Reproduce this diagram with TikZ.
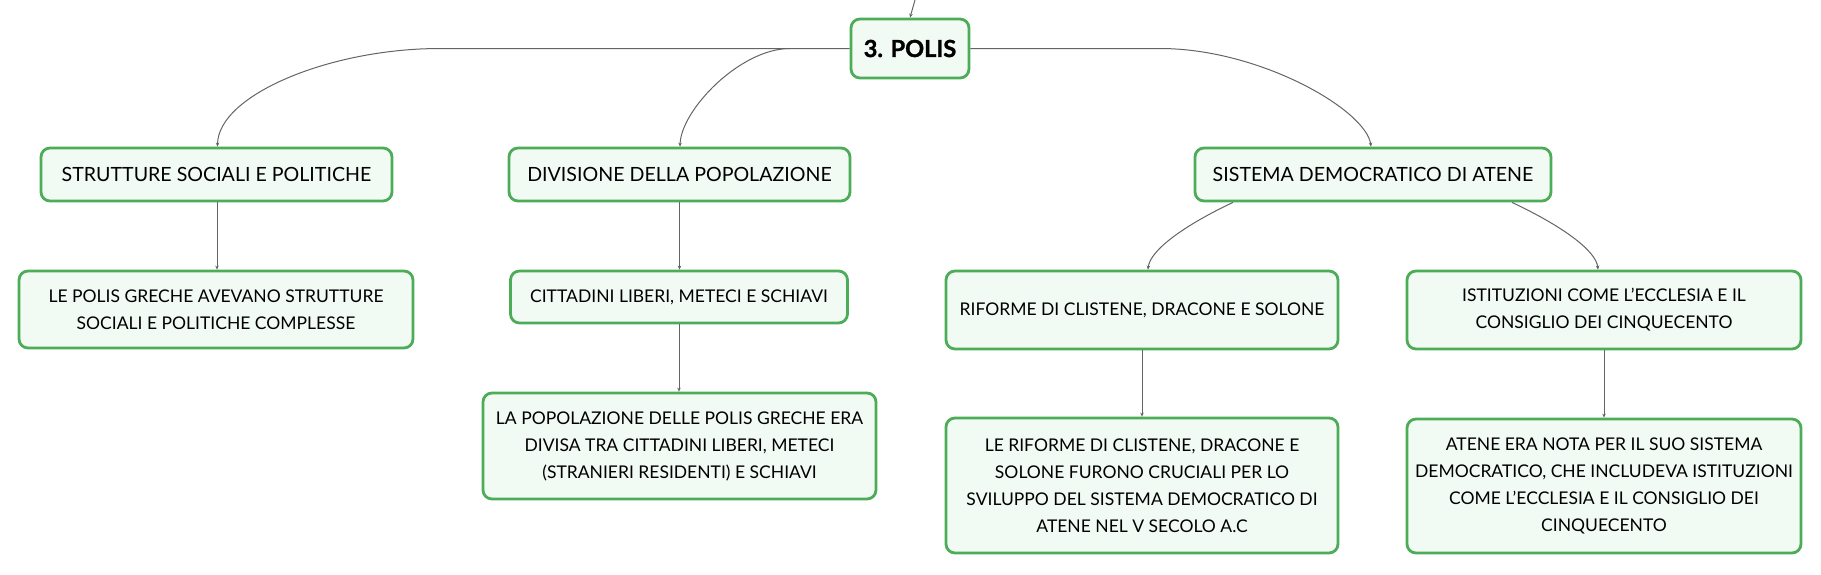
\documentclass[tikz,border=0pt]{standalone}
\usepackage{fontspec}
\setmainfont{Lato}
\newfontfamily\polisfont[BoldFeatures={FakeBold=1.4}]{Lato}
\usetikzlibrary{arrows.meta,calc}
\definecolor{boxgreen}{RGB}{76,172,88}
\definecolor{boxfill}{RGB}{242,250,244}
\definecolor{linkgray}{RGB}{100,100,100}
\begin{document}
\begin{tikzpicture}[x=1pt,y=-1pt,
  box/.style={draw=boxgreen,fill=boxfill,line width=2.8pt,rounded corners=9pt,
    align=center,inner sep=0pt,font=\fontsize{17.5}{27}\selectfont,text=black},
  topic/.style={box,font=\fontsize{19.6}{27}\selectfont},
  link/.style={draw=linkgray,line width=1pt,-{Stealth[length=4pt,width=3.5pt]}}]
\useasboundingbox (0,0) rectangle (1821,574);
\node[box,minimum width=118pt,minimum height=59pt,font=\polisfont\fontsize{23.5}{27}\selectfont\bfseries] (polis) at (910,48.5) {3. POLIS};
\node[topic,minimum width=351pt,minimum height=53pt] (stru) at (216.5,174.5) {STRUTTURE SOCIALI E POLITICHE};
\node[box,minimum width=394pt,minimum height=77pt] (lepol) at (216,309.5) {LE POLIS GRECHE AVEVANO STRUTTURE\\SOCIALI E POLITICHE COMPLESSE};
\node[topic,minimum width=341pt,minimum height=53pt] (div) at (679.5,174.5) {DIVISIONE DELLA POPOLAZIONE};
\node[box,minimum width=337pt,minimum height=52pt] (citt) at (679,297) {CITTADINI LIBERI, METECI E SCHIAVI};
\node[box,minimum width=393pt,minimum height=106pt] (lapop) at (679.5,446) {LA POPOLAZIONE DELLE POLIS GRECHE ERA\\DIVISA TRA CITTADINI LIBERI, METECI\\(STRANIERI RESIDENTI) E SCHIAVI};
\node[topic,minimum width=356pt,minimum height=53pt] (sis) at (1373,174.5) {SISTEMA DEMOCRATICO DI ATENE};
\node[box,minimum width=392pt,minimum height=78pt] (rif) at (1142,310) {RIFORME DI CLISTENE, DRACONE E SOLONE};
\node[box,minimum width=394pt,minimum height=78pt] (ist) at (1604,310) {ISTITUZIONI COME L'ECCLESIA E IL\\CONSIGLIO DEI CINQUECENTO};
\node[box,minimum width=392pt,minimum height=135pt] (leri) at (1142,485.5) {LE RIFORME DI CLISTENE, DRACONE E\\SOLONE FURONO CRUCIALI PER LO\\SVILUPPO DEL SISTEMA DEMOCRATICO DI\\ATENE NEL V SECOLO A.C};
\node[box,minimum width=394pt,minimum height=134pt] (aten) at (1604,486) {ATENE ERA NOTA PER IL SUO SISTEMA\\DEMOCRATICO, CHE INCLUDEVA ISTITUZIONI\\COME L'ECCLESIA E IL CONSIGLIO DEI\\CINQUECENTO};
\coordinate (top) at (915,0);
\coordinate (lh) at (440,48.5);
\coordinate (mh) at (790,48.5);
\coordinate (rh) at (1160,48.5);
\draw[link] (top) -- (polis.north);
\draw[link] (polis.west) -- (lh) .. controls (330,48.5) and (218,95) .. ([xshift=1pt]stru.north);
\draw[link] (mh) .. controls (740,48.5) and (681,110) .. ([xshift=0.5pt]div.north);
\draw[link] (polis.east) -- (rh) .. controls (1260,48.5) and (1366,110) .. ([xshift=-2pt]sis.north);
\draw[link] ([xshift=-140pt]sis.south) .. controls (1185,225) and (1150,250) .. ([xshift=6pt]rif.north);
\draw[link] ([xshift=139pt]sis.south) .. controls (1560,225) and (1596,250) .. ([xshift=-6pt]ist.north);
\draw[link] ([xshift=0.5pt]stru.south) -- ([xshift=0.5pt]stru.south |- lepol.north);
\draw[link] (div.south) -- (div.south |- citt.north);
\draw[link] (citt.south) -- (citt.south |- lapop.north);
\draw[link] (rif.south) -- (leri.north);
\draw[link] (ist.south) -- (aten.north);
\end{tikzpicture}
\end{document}
